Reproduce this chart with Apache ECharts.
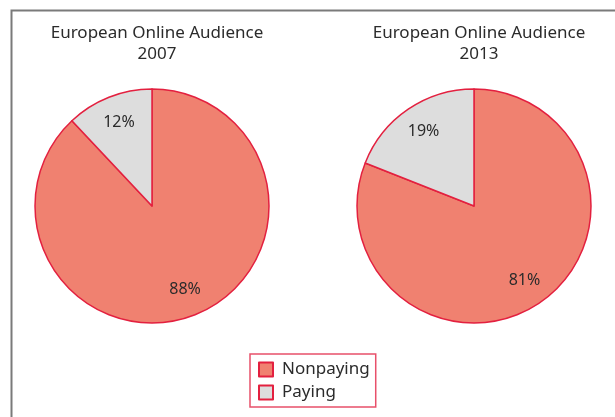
<!DOCTYPE html>
<html>
<head>
<meta charset="utf-8">
<script src="https://cdn.jsdelivr.net/npm/echarts@6/dist/echarts.min.js"></script>
<style>
  html, body { margin: 0; padding: 0; background: #fff; }
  #chart { width: 615px; height: 417px; }
</style>
</head>
<body>
<div id="chart"></div>
<script>
  // data
  var categories = ['Nonpaying', 'Paying'];
  var years = ['2007', '2013'];
  var values2007 = [88, 12];
  var values2013 = [81, 19];

  var fillColors = ['#f08170', '#dddddd'];
  var edgeColor = '#e3203f';
  var centers = [[152, 206], [474, 206]];
  var radius = 117;

  function pieData(vals) {
    return categories.map(function (name, i) {
      return { name: name, value: vals[i], itemStyle: { color: fillColors[i] } };
    });
  }

  // push the inside label further out from the centre (about 0.77 of radius)
  function pushOut(seriesIdx) {
    return function (params) {
      var r = params.labelRect;
      var c = centers[seriesIdx];
      var lx = r.x + r.width / 2, ly = r.y + r.height / 2;
      return { dx: (lx - c[0]) * 0.46, dy: (ly - c[1]) * 0.46 };
    };
  }

  var chart = echarts.init(document.getElementById('chart'));
  var titleStyle = { fontFamily: 'Noto Sans', fontSize: 17, fontWeight: 'normal', color: '#2b2b2b', lineHeight: 21 };

  chart.setOption({
    animation: false,
    title: [
      { text: 'European Online Audience\n' + years[0], left: centers[0][0], top: 18, textAlign: 'center', textStyle: titleStyle },
      { text: 'European Online Audience\n' + years[1], left: centers[1][0], top: 18, textAlign: 'center', textStyle: titleStyle }
    ],
    graphic: [{
      type: 'rect',
      shape: { x: 11.5, y: 10.5, width: 700, height: 500 },
      style: { fill: 'none', stroke: '#7a7a7a', lineWidth: 2 },
      silent: true
    }],
    legend: {
      data: categories,
      orient: 'vertical',
      left: 250,
      top: 354,
      padding: [7, 6, 6, 8],
      itemWidth: 14,
      itemHeight: 14,
      itemGap: 6,
      borderColor: '#e8506a',
      borderWidth: 1.5,
      icon: 'rect',
      textStyle: { fontFamily: 'Noto Sans', fontSize: 17, color: '#2b2b2b', padding: [0, 0, 0, 4] }
    },
    series: [values2007, values2013].map(function (vals, s) {
      return {
        type: 'pie',
        center: centers[s],
        radius: radius,
        startAngle: 90,
        clockwise: true,
        data: pieData(vals),
        itemStyle: { borderColor: edgeColor, borderWidth: 1.5 },
        label: {
          position: 'inside',
          formatter: '{c}%',
          fontFamily: 'Noto Sans',
          fontSize: 16,
          color: '#2b2b2b'
        },
        labelLayout: pushOut(s),
        emphasis: { disabled: true }
      };
    })
  });
</script>
</body>
</html>
